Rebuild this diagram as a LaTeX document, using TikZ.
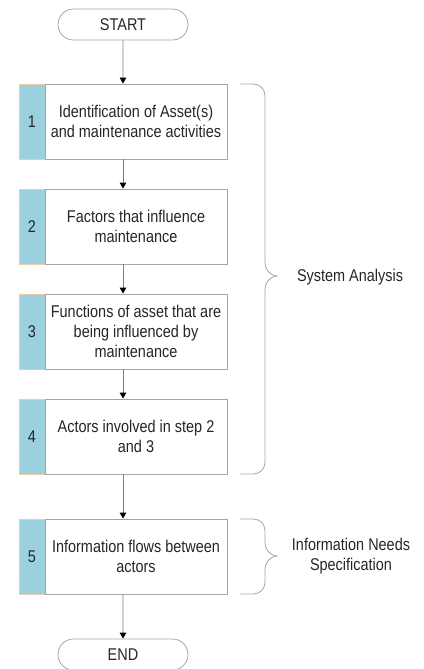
\documentclass[tikz,border=0pt]{standalone}
\usepackage{fontspec}
\setmainfont{Liberation Sans}[FakeStretch=0.85]
\usetikzlibrary{shapes.misc,arrows.meta}

\definecolor{boxline}{HTML}{A6A6A6}
\definecolor{flowline}{HTML}{7F7F7F}
\definecolor{stripfill}{HTML}{9BD0DE}
\definecolor{stripline}{HTML}{F0C8AC}
\definecolor{ink}{HTML}{262626}

\tikzset{
  txt/.style={font=\fontsize{17}{20}\selectfont, text=ink},
  terminal/.style={txt, rounded rectangle, draw=boxline, line width=0.8pt,
    minimum width=130pt, minimum height=31pt, inner sep=0pt},
  stepbox/.style={txt, rectangle, draw=boxline, line width=0.8pt, fill=white,
    minimum width=182pt, minimum height=75pt, inner sep=0pt, align=center},
  numbox/.style={txt, rectangle, draw=stripline, line width=0.6pt, fill=stripfill,
    minimum width=26pt, minimum height=75pt, inner sep=0pt},
  flow/.style={draw=flowline, line width=0.8pt,
    -{Triangle[length=6pt,width=6.5pt,color=black]}},
  bracket/.style={draw=boxline, line width=0.8pt},
  lbl/.style={txt, align=center}
}

\begin{document}
\begin{tikzpicture}[x=1pt,y=-1pt]
\useasboundingbox (0,0) rectangle (423,669);

% terminals
\node[terminal] (start) at (123,24.5) {START};
\node[terminal] (end)   at (123,654.5) {END};

% numbered steps
\node[numbox]  (n1) at (32,121.5) {1};
\node[stepbox] (b1) at (136,121.5) {Identification of Asset(s)\\and maintenance activities};

\node[numbox]  (n2) at (32,226.5) {2};
\node[stepbox] (b2) at (136,226.5) {Factors that influence\\maintenance};

\node[numbox]  (n3) at (32,331.5) {3};
\node[stepbox] (b3) at (136,331.5) {Functions of asset that are\\being influenced by\\maintenance};

\node[numbox]  (n4) at (32,436.5) {4};
\node[stepbox] (b4) at (136,436.5) {Actors involved in step 2\\and 3};

\node[numbox]  (n5) at (32,556.5) {5};
\node[stepbox] (b5) at (136,556.5) {Information flows between\\actors};

% flow arrows
\draw[flow] (start) -- (start |- b1.north);
\draw[flow] (b1.south -| start) -- (b2.north -| start);
\draw[flow] (b2.south -| start) -- (b3.north -| start);
\draw[flow] (b3.south -| start) -- (b4.north -| start);
\draw[flow] (b4.south -| start) -- (b5.north -| start);
\draw[flow] (b5.south -| start) -- (end);

% phase brackets
\draw[bracket] (240,84) -- (253,84)
  .. controls (260,84) and (265,89) .. (265,96) -- (265,262)
  .. controls (265,270) and (270,276) .. (278,276)
  .. controls (270,276) and (265,282) .. (265,290) -- (265,462)
  .. controls (265,469) and (260,474) .. (253,474) -- (240,474);

\draw[bracket] (240,519) -- (253,519)
  .. controls (260,519) and (265,524) .. (265,531) -- (265,542)
  .. controls (265,550) and (270,556) .. (278,556)
  .. controls (270,556) and (265,562) .. (265,570) -- (265,582)
  .. controls (265,589) and (260,594) .. (253,594) -- (240,594);

% phase labels
\node[lbl] (sa)  at (350,277) {System Analysis};
\node[lbl] (ins) at (351,556) {Information Needs\\Specification};
\end{tikzpicture}
\end{document}
